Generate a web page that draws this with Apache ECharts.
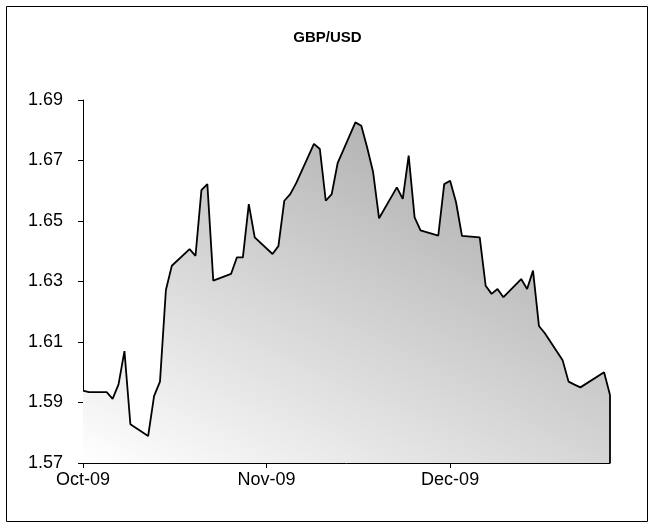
<!DOCTYPE html>
<html>
<head>
<meta charset="utf-8">
<script src="https://cdn.jsdelivr.net/npm/echarts@6/dist/echarts.min.js"></script>
<style>
  html, body { margin: 0; padding: 0; background: #fff; }
  #chart { width: 655px; height: 529px; }
</style>
</head>
<body>
<div id="chart"></div>
<script>
// trading days, GBP/USD close
const dates = [
  '2009-10-01', '2009-10-02', '2009-10-05', '2009-10-06', '2009-10-07', '2009-10-08', '2009-10-09',
  '2009-10-12', '2009-10-13', '2009-10-14', '2009-10-15', '2009-10-16',
  '2009-10-19', '2009-10-20', '2009-10-21', '2009-10-22', '2009-10-23',
  '2009-10-26', '2009-10-27', '2009-10-28', '2009-10-29', '2009-10-30',
  '2009-11-02', '2009-11-03', '2009-11-04', '2009-11-05', '2009-11-06',
  '2009-11-09', '2009-11-10', '2009-11-11', '2009-11-12', '2009-11-13',
  '2009-11-16', '2009-11-17', '2009-11-18', '2009-11-19', '2009-11-20',
  '2009-11-23', '2009-11-24', '2009-11-25', '2009-11-26', '2009-11-27',
  '2009-11-30', '2009-12-01', '2009-12-02', '2009-12-03', '2009-12-04',
  '2009-12-07', '2009-12-08', '2009-12-09', '2009-12-10', '2009-12-11',
  '2009-12-14', '2009-12-15', '2009-12-16', '2009-12-17', '2009-12-18',
  '2009-12-21', '2009-12-22', '2009-12-23', '2009-12-24',
  '2009-12-28', '2009-12-29'
]
const rates = [
  1.5939, 1.5934, 1.5934, 1.5912, 1.5960, 1.6070, 1.5828,
  1.5789, 1.5921, 1.5969, 1.6272, 1.6352,
  1.6407, 1.6385, 1.6602, 1.6622, 1.6303,
  1.6325, 1.6380, 1.6380, 1.6556, 1.6446,
  1.6391, 1.6417, 1.6567, 1.6589, 1.6625,
  1.6755, 1.6738, 1.6567, 1.6589, 1.6691,
  1.6826, 1.6815, 1.6742, 1.6661, 1.6509,
  1.6611, 1.6573, 1.6716, 1.6512, 1.6469,
  1.6452, 1.6622, 1.6633, 1.6562, 1.6451,
  1.6446, 1.6286, 1.6259, 1.6275, 1.6248,
  1.6308, 1.6275, 1.6336, 1.6153, 1.6129,
  1.6040, 1.5969, 1.5959, 1.5950,
  1.6000, 1.5925
]
// excel date axis: major unit 31 days from Oct 1
const xTickDates = ['2009-10-01', '2009-11-01', '2009-12-02']
const xTickLabels = ['Oct-09', 'Nov-09', 'Dec-09']
const yTicks = [1.57, 1.59, 1.61, 1.63, 1.65, 1.67, 1.69]

const DAY = 86400000
const t0 = Date.parse(dates[0])
const dayOf = d => Math.round((Date.parse(d) - t0) / DAY)

const points = dates.map((d, i) => [dayOf(d), rates[i]])
const xTicks = xTickDates.map(dayOf)
const lastX = points[points.length - 1][0]
const lastY = points[points.length - 1][1]

const font = 'Liberation Sans, Arial, sans-serif'

const chart = echarts.init(document.getElementById('chart'))
chart.setOption({
  animation: false,
  title: {
    text: 'GBP/USD',
    left: 'center',
    top: 25,
    textStyle: { fontFamily: font, fontSize: 15, fontWeight: 'bold', color: '#000' }
  },
  graphic: [{
    type: 'rect',
    shape: { x: 6.5, y: 6.5, width: 641, height: 515 },
    style: { fill: 'none', stroke: '#000', lineWidth: 1 },
    silent: true
  }],
  grid: { left: 83, right: 45, top: 100, bottom: 66 },
  xAxis: {
    type: 'value',
    min: 0,
    max: lastX,
    splitLine: { show: false },
    axisLine: { lineStyle: { color: '#000', width: 1 } },
    axisTick: { length: 5, customValues: xTicks, lineStyle: { color: '#000' } },
    axisLabel: {
      customValues: xTicks,
      formatter: v => xTickLabels[xTicks.indexOf(v)] || '',
      margin: 8,
      fontFamily: font,
      fontSize: 18,
      color: '#000'
    }
  },
  yAxis: {
    type: 'value',
    min: yTicks[0],
    max: yTicks[yTicks.length - 1],
    splitLine: { show: false },
    axisLine: { show: true, lineStyle: { color: '#000', width: 1 } },
    axisTick: { show: true, length: 5, customValues: yTicks, lineStyle: { color: '#000' } },
    axisLabel: {
      customValues: yTicks,
      formatter: v => v.toFixed(2),
      margin: 20,
      fontFamily: font,
      fontSize: 18,
      color: '#000'
    }
  },
  series: [{
    type: 'line',
    data: points,
    symbol: 'none',
    lineStyle: { color: '#000', width: 1.8 },
    areaStyle: {
      opacity: 1,
      color: new echarts.graphic.LinearGradient(0, 1, 0.5, -0.53, [
        { offset: 0, color: '#ffffff' },
        { offset: 1, color: '#999999' }
      ])
    },
    markLine: {
      silent: true,
      symbol: 'none',
      label: { show: false },
      lineStyle: { color: '#000', width: 1.8, type: 'solid' },
      data: [[{ coord: [lastX, lastY] }, { coord: [lastX, yTicks[0]] }]]
    }
  }]
})
</script>
</body>
</html>
